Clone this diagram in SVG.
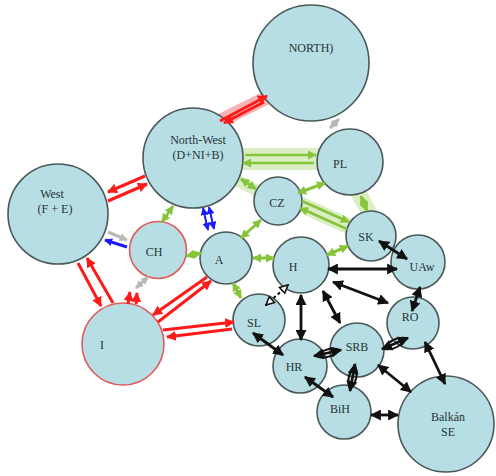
<svg xmlns="http://www.w3.org/2000/svg" width="496" height="476" viewBox="0 0 496 476">
<defs>
<marker id="ak" viewBox="0 0 10 10" refX="9" refY="5" markerWidth="11" markerHeight="11" markerUnits="userSpaceOnUse" orient="auto-start-reverse"><path d="M0,0 L10,5 L0,10 z" fill="#111"/></marker>
<marker id="ao" viewBox="0 0 10 10" refX="9" refY="5" markerWidth="10" markerHeight="10" markerUnits="userSpaceOnUse" orient="auto-start-reverse"><path d="M1,1 L9,5 L1,9 z" fill="#fff" stroke="#111" stroke-width="1.6"/></marker>
<marker id="ar" viewBox="0 0 10 10" refX="9" refY="5" markerWidth="10" markerHeight="10" markerUnits="userSpaceOnUse" orient="auto-start-reverse"><path d="M0,0 L10,5 L0,10 z" fill="#ff1a1a"/></marker>
<marker id="ag" viewBox="0 0 10 10" refX="9" refY="5" markerWidth="9" markerHeight="9" markerUnits="userSpaceOnUse" orient="auto-start-reverse"><path d="M0,0 L10,5 L0,10 z" fill="#86c43a"/></marker>
<marker id="ab" viewBox="0 0 10 10" refX="9" refY="5" markerWidth="8" markerHeight="8" markerUnits="userSpaceOnUse" orient="auto-start-reverse"><path d="M0,0 L10,5 L0,10 z" fill="#1a1aff"/></marker>
<marker id="ay" viewBox="0 0 10 10" refX="9" refY="5" markerWidth="8" markerHeight="8" markerUnits="userSpaceOnUse" orient="auto-start-reverse"><path d="M0,0 L10,5 L0,10 z" fill="#b8b8b8"/></marker>
</defs>
<style>
.n{fill:#b7dee4;stroke:#4a5858;stroke-width:1.6}
.nr{fill:#b7dee4;stroke:#e25a5a;stroke-width:1.6}
text{font-family:"Liberation Serif","Times New Roman",serif;font-size:12px;fill:#263535;text-anchor:middle}
.r{stroke:#ff1a1a;stroke-width:3;fill:none;marker-end:url(#ar)}
.g{stroke:#86c43a;stroke-width:3;fill:none;marker-start:url(#ag);marker-end:url(#ag)}
.g1{stroke:#86c43a;stroke-width:2.5;fill:none;marker-end:url(#ag)}
.gw{stroke:#dbeec3;stroke-linecap:round;fill:none}
.k{stroke:#111;stroke-width:2.8;fill:none;marker-start:url(#ak);marker-end:url(#ak)}
.kl{stroke:#111;stroke-width:2;fill:none}
.b{stroke:#1a1aff;stroke-width:2;fill:none;marker-start:url(#ab);marker-end:url(#ab)}
.b1{stroke:#1a1aff;stroke-width:3;fill:none;marker-end:url(#ab)}
.y{stroke:#b8b8b8;stroke-width:3;fill:none;marker-start:url(#ay);marker-end:url(#ay)}
.y1{stroke:#b8b8b8;stroke-width:3;fill:none;marker-end:url(#ay)}
</style>
<g id="glow">
<line class="gw" x1="240" y1="159" x2="318" y2="159" stroke-width="22"/>
<line class="gw" x1="240" y1="182" x2="256" y2="190" stroke-width="12"/>
<line class="gw" x1="302" y1="205" x2="348" y2="226" stroke-width="16"/>
<line class="gw" x1="358" y1="192" x2="370" y2="214" stroke-width="16"/>
<line x1="222" y1="120" x2="266" y2="98" stroke="#f7b3b3" stroke-width="14" stroke-linecap="round"/>
</g>
<g id="NORTH"><circle class="n" cx="311" cy="63" r="58"/><text x="311" y="52" font-size="11.5">NORTH)</text></g>
<g id="NW"><circle class="n" cx="193" cy="158" r="50"/><text x="198" y="144">North-West</text><text x="198" y="159">(D+NI+B)</text></g>
<g id="West"><circle class="n" cx="58" cy="214" r="50"/><text x="52" y="198">West</text><text x="55" y="213">(F + E)</text></g>
<g id="CH"><circle class="nr" cx="158" cy="250" r="28.5"/><text x="154" y="256">CH</text></g>
<g id="A"><circle class="n" cx="226" cy="258" r="26"/><text x="219" y="264">A</text></g>
<g id="CZ"><circle class="n" cx="278" cy="201" r="24"/><text x="277" y="207">CZ</text></g>
<g id="PL"><circle class="n" cx="350" cy="162" r="33"/><text x="340" y="168">PL</text></g>
<g id="SK"><circle class="n" cx="371" cy="236" r="25"/><text x="366" y="241">SK</text></g>
<g id="UAw"><circle class="n" cx="418" cy="262" r="27"/><text x="422" y="271">UAw</text></g>
<g id="H"><circle class="n" cx="301" cy="265" r="28"/><text x="293" y="271">H</text></g>
<g id="SL"><circle class="n" cx="259" cy="320" r="26"/><text x="254" y="327">SL</text></g>
<g id="RO"><circle class="n" cx="413" cy="323" r="26"/><text x="410" y="321">RO</text></g>
<g id="SRB"><circle class="n" cx="357" cy="350" r="27"/><text x="357" y="351">SRB</text></g>
<g id="HR"><circle class="n" cx="300" cy="366" r="27"/><text x="294" y="371">HR</text></g>
<g id="BiH"><circle class="n" cx="344" cy="412" r="27"/><text x="340" y="413">BiH</text></g>
<g id="Balkan"><circle class="n" cx="446" cy="424" r="48"/><text x="448" y="421">Balkán</text><text x="448" y="436">SE</text></g>
<g id="I"><circle class="nr" cx="123" cy="344" r="41"/><text x="102" y="349">I</text></g>
<g id="connectors">
<line class="r" x1="220" y1="121" x2="267" y2="96"/>
<line class="r" x1="264" y1="102" x2="224" y2="123"/>
<line class="r" x1="145" y1="176" x2="108" y2="192"/>
<line class="r" x1="108" y1="201" x2="147" y2="184"/>
<line class="r" x1="78" y1="263" x2="101" y2="306"/>
<line class="r" x1="113" y1="303" x2="87" y2="258"/>
<line class="r" x1="207" y1="277" x2="153" y2="315"/>
<line class="r" x1="158" y1="322" x2="211" y2="281"/>
<line class="r" x1="163" y1="330" x2="234" y2="322"/>
<line class="r" x1="232" y1="329" x2="167" y2="337"/>
<line class="r" x1="128" y1="304" x2="130" y2="292"/>
<line class="r" x1="136" y1="304" x2="137" y2="293"/>
<line class="b1" x1="127" y1="247" x2="105" y2="240"/>
<line class="b" x1="203" y1="208" x2="208" y2="230"/>
<line class="b" x1="209" y1="207" x2="214" y2="229"/>
<line class="y1" x1="108" y1="232" x2="127" y2="240"/>
<line class="y" x1="136" y1="288" x2="148" y2="277"/>
<line class="y" x1="330" y1="128" x2="339" y2="119"/>
<line class="g1" x1="245" y1="155" x2="316" y2="155"/>
<line class="g1" x1="314" y1="163" x2="243" y2="163"/>
<line class="g1" x1="302" y1="201" x2="349" y2="222"/>
<line class="g1" x1="347" y1="229" x2="300" y2="208"/>
<line class="g" x1="241" y1="179" x2="256" y2="189"/>
<line class="g" x1="298" y1="193" x2="325" y2="183"/>
<line class="g" x1="361" y1="196" x2="367" y2="211"/>
<line class="g" x1="327" y1="255" x2="348" y2="246"/>
<line class="g" x1="253" y1="258" x2="274" y2="258"/>
<line class="g" x1="241" y1="238" x2="261" y2="220"/>
<line class="g" x1="186" y1="256" x2="201" y2="253"/>
<line class="g" x1="162" y1="222" x2="173" y2="206"/>
<line class="g" x1="233" y1="283" x2="241" y2="298" stroke-width="1.8"/>
<line class="k" x1="328" y1="269" x2="397" y2="269"/>
<line class="k" x1="333" y1="282" x2="388" y2="303"/>
<line class="k" x1="323" y1="291" x2="340" y2="323"/>
<line class="k" x1="301" y1="295" x2="301" y2="340"/>
<line class="k" x1="379" y1="241" x2="407" y2="259"/>
<line class="k" x1="420" y1="287" x2="412" y2="311"/>
<line class="k" x1="253" y1="333" x2="283" y2="355"/>
<line class="k" x1="305" y1="377" x2="333" y2="397"/>
<line class="k" x1="378" y1="365" x2="411" y2="392"/>
<line class="k" x1="425" y1="342" x2="445" y2="384"/>
<line class="k" x1="371" y1="415" x2="398" y2="415"/>
<line class="k" x1="314" y1="356" x2="341" y2="350"/>
<path class="kl" d="M316,356 Q329,345 340,350 Q327,361 316,356 Z"/>
<line class="k" x1="382" y1="349" x2="408" y2="338"/>
<path class="kl" d="M384,349 Q392,336 406,338 Q398,351 384,349 Z"/>
<line class="k" x1="355" y1="364" x2="350" y2="391"/>
<path class="kl" d="M355,366 Q360,378 350,389 Q345,377 355,366 Z"/>
<line x1="266" y1="305" x2="288" y2="285" stroke="#111" stroke-width="2" stroke-dasharray="1.5,4" stroke-linecap="round" marker-start="url(#ao)" marker-end="url(#ao)"/>
</g>
</svg>
